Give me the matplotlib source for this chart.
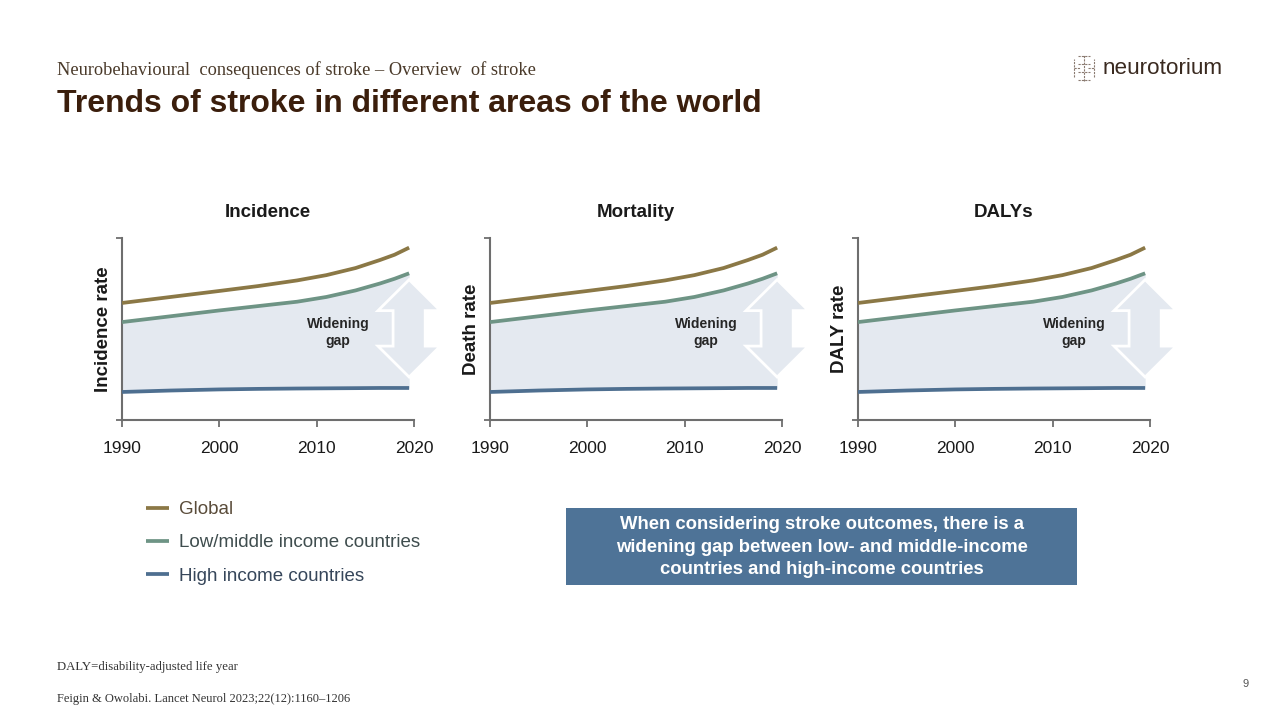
import matplotlib
matplotlib.use("Agg")
import matplotlib.pyplot as plt
from matplotlib.patches import Polygon, Rectangle
from matplotlib.lines import Line2D

plt.rcParams['font.family'] = ['Liberation Sans', 'DejaVu Sans']

# values (arbitrary rate units, 0-100 scale)
years = [1990, 1995, 2000, 2004, 2008, 2011, 2014, 2016.5, 2018, 2019.5]
global_rate = [64.3, 67.6, 70.9, 73.6, 76.7, 79.6, 83.5, 87.9, 90.8, 94.7]
lmic_rate = [53.8, 57.0, 60.2, 62.6, 65.0, 67.6, 71.2, 75.0, 77.6, 80.6]
hic_rate = [15.4, 16.2, 16.8, 17.1, 17.3, 17.4, 17.5, 17.6, 17.6, 17.6]

panel_titles = ['Incidence', 'Mortality', 'DALYs']
panel_ylabels = ['Incidence rate', 'Death rate', 'DALY rate']
xticks = [1990, 2000, 2010, 2020]
series_names = ['Global', 'Low/middle income countries', 'High income countries']

c_global = '#8b7846'
c_lmic = '#6e9485'
c_hic = '#4e6f90'
c_fill = '#e4e9f0'
c_spine = '#6e6e6e'

fig = plt.figure(figsize=(12.8, 7.2), dpi=100)

# header
fig.text(57/1280, 1-70/720, 'Neurobehavioural  consequences of stroke \u2013 Overview  of stroke',
         family='Liberation Serif', fontsize=13.2, color='#4a3a2a', va='center')
fig.text(57/1280, 1-104/720, 'Trends of stroke in different areas of the world',
         fontsize=23, fontweight='bold', color='#3b1e0c', va='center')

# logo
fig.text(1103/1280, 1-68/720, 'neurotorium', fontsize=16.2, color='#3a2a20', va='center')
lx, ly = 1084/1280, 1-68/720
sx, sy = 1/1280, 1/720
for dx0, dy0, dx1, dy1 in [(-10, -9, -10, 9), (10, -9, 10, 9), (-6, -12, 6, -12), (-6, 12, 6, 12),
                           (0, -13, 0, 13), (-6, -4, 6, -4), (-6, 4, 6, 4), (-10, 0, -4, 0), (4, 0, 10, 0)]:
    fig.add_artist(Line2D([lx + dx0*sx, lx + dx1*sx], [ly + dy0*sy, ly + dy1*sy],
                          color='#8a7a70', lw=0.8, ls=(0, (2, 1))))

panel_lefts = [122, 490, 858]
axes = []
for i, left in enumerate(panel_lefts):
    ax = fig.add_axes([left/1280, 1-420/720, 292/1280, 182/720])
    axes.append(ax)
    ax.fill_between(years, hic_rate, lmic_rate, color=c_fill, lw=0, zorder=1)
    ax.plot(years, global_rate, color=c_global, lw=2.7, solid_capstyle='butt', zorder=3, label=series_names[0])
    ax.plot(years, lmic_rate, color=c_lmic, lw=2.7, solid_capstyle='butt', zorder=3, label=series_names[1])
    ax.plot(years, hic_rate, color=c_hic, lw=2.7, solid_capstyle='butt', zorder=3, label=series_names[2])

    # double headed "widening gap" arrow next to the end of the lines
    xc = years[-1]
    top = lmic_rate[-1] - 3.5
    bot = hic_rate[-1] + 6
    hw, sw, hl = 3.2, 1.65, 17
    pts = [(xc, top), (xc + hw, top - hl), (xc + sw, top - hl), (xc + sw, bot + hl),
           (xc + hw, bot + hl), (xc, bot), (xc - hw, bot + hl), (xc - sw, bot + hl),
           (xc - sw, top - hl), (xc - hw, top - hl)]
    ax.add_patch(Polygon(pts, closed=True, facecolor=c_fill, edgecolor='white', lw=2,
                         clip_on=False, zorder=2))
    ax.text(2012.2, 48.0, 'Widening\ngap', ha='center', va='center', fontsize=10,
            fontweight='bold', color='#262626', linespacing=1.3, zorder=4)

    ax.set_xlim(1990, 2020)
    ax.set_ylim(0, 100)
    ax.set_xticks(xticks)
    ax.set_yticks([0, 100])
    ax.set_yticklabels([])
    ax.tick_params(axis='x', length=5, width=1.3, color=c_spine, labelsize=12.5, pad=10, labelcolor='#1a1a1a')
    ax.tick_params(axis='y', length=4, width=1.3, color=c_spine)
    for s in ['top', 'right']:
        ax.spines[s].set_visible(False)
    for s in ['left', 'bottom']:
        ax.spines[s].set_color(c_spine)
        ax.spines[s].set_linewidth(1.5)
    ax.set_title(panel_titles[i], fontsize=13.5, fontweight='bold', color='#1a1a1a', pad=15)
    ax.set_ylabel(panel_ylabels[i], fontsize=13.5, fontweight='bold', color='#1a1a1a', labelpad=0)

# legend
handles, labels = axes[0].get_legend_handles_labels()
leg = fig.legend(handles, labels, loc='upper left', bbox_to_anchor=(146/1280, 1-501/720),
                 frameon=False, fontsize=13.5, handlelength=1.2, handletextpad=0.55,
                 labelspacing=0.86, borderpad=0, borderaxespad=0)
for t, col in zip(leg.get_texts(), ['#5a4c3a', '#3f4d4e', '#36465a']):
    t.set_color(col)

# message box
fig.add_artist(Rectangle((566/1280, 1-585/720), 511/1280, 77/720, transform=fig.transFigure,
                         facecolor='#4e7397', edgecolor='none'))
fig.text(822/1280, 1-547/720,
         'When considering stroke outcomes, there is a\nwidening gap between low- and middle-income\ncountries and high-income countries',
         ha='center', va='center', fontsize=13.3, fontweight='bold', color='white', linespacing=1.4)

# footnotes
fig.text(57/1280, 1-667/720, 'DALY=disability-adjusted life year', family='Liberation Serif',
         fontsize=9.2, color='#333333', va='center')
fig.text(57/1280, 1-699/720, 'Feigin & Owolabi. Lancet Neurol 2023;22(12):1160\u20131206', family='Liberation Serif',
         fontsize=9.0, color='#333333', va='center')
fig.text(1246/1280, 1-684/720, '9', fontsize=8, color='#555555', va='center', ha='center')

fig.savefig('out.png', dpi=100)
